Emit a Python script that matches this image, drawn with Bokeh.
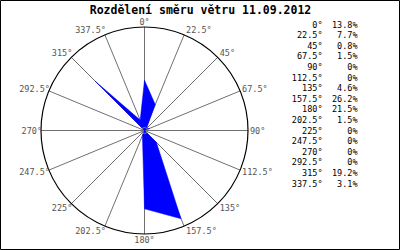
import math
from bokeh.plotting import figure
from bokeh.models import Range1d, ColumnDataSource
from bokeh.core.properties import value
from bokeh.embed import file_html
from bokeh.resources import INLINE

title = "Rozdělení směru větru 11.09.2012"
directions = [0, 22.5, 45, 67.5, 90, 112.5, 135, 157.5, 180, 202.5, 225, 247.5, 270, 292.5, 315, 337.5]
dir_labels = ["0°", "22.5°", "45°", "67.5°", "90°", "112.5°", "135°", "157.5°",
              "180°", "202.5°", "225°", "247.5°", "270°", "292.5°", "315°", "337.5°"]
percent = [13.8, 7.7, 0.8, 1.5, 0, 0, 4.6, 26.2, 21.5, 1.5, 0, 0, 0, 0, 19.2, 3.1]
pct_labels = ["13.8%", "7.7%", "0.8%", "1.5%", "0%", "0%", "4.6%", "26.2%",
              "21.5%", "1.5%", "0%", "0%", "0%", "0%", "19.2%", "3.1%"]
RMAX = 28.4  # outer ring, in percent

W, H = 400, 250
CX, CY = 144, 130          # centre in pixels
S = 103.5 / RMAX           # pixels per percent

p = figure(width=W, height=H, output_backend="svg", toolbar_location=None,
           x_range=Range1d(-CX / S, (W - CX) / S),
           y_range=Range1d(-(H - CY) / S, CY / S),
           min_border=0, background_fill_color="white", border_fill_color="white")
p.axis.visible = False
p.grid.visible = False
p.outline_line_color = "black"
p.outline_line_width = 1

FONT = value("DejaVu Sans Mono")
rad = [math.radians(d) for d in directions]

# spokes
p.segment(x0=[0] * 16, y0=[0] * 16,
          x1=[RMAX * math.sin(a) for a in rad], y1=[RMAX * math.cos(a) for a in rad],
          line_color="#707070", line_width=1)

# outer ring
p.circle(x=[0], y=[0], radius=RMAX, fill_color=None, line_color="black", line_width=1.2)

# rose polygon
px = [v * math.sin(a) for v, a in zip(percent, rad)]
py = [v * math.cos(a) for v, a in zip(percent, rad)]
p.patch(px, py, fill_color="#0000ff", line_color="#0000ff", line_width=0.5)

# centre mark
p.scatter(x=[0], y=[0], size=6, marker="circle", fill_color=None, line_color="#808080", line_width=1)

# direction labels around ring
lx, ly, la, xo, yo = [], [], [], [], []
for a in rad:
    s, c = math.sin(a), math.cos(a)
    lx.append(RMAX * s)
    ly.append(RMAX * c)
    if abs(s) < 1e-6:
        la.append("center"); xo.append(0)
    elif s > 0:
        la.append("left"); xo.append(2)
    else:
        la.append("right"); xo.append(1)
    yo.append(-5.5 * c)
src = ColumnDataSource(dict(x=lx, y=ly, t=dir_labels, align=la, xo=xo, yo=yo))
p.text(x="x", y="y", text="t", source=src, text_align="align", x_offset="xo", y_offset="yo",
       text_baseline="middle", text_font=FONT, text_font_size="8.5px", text_color="#555555")

# title
p.text(x=[(W / 2 - CX) / S], y=[(CY - 9) / S], text=[title], text_align="center",
       text_baseline="middle", text_font=FONT, text_font_style="bold",
       text_font_size="11.5px", text_color="black")

# table on the right
rows_y = [(CY - (24 + 10.6 * i)) / S for i in range(16)]
p.text(x=[(322 - CX) / S] * 16, y=rows_y, text=dir_labels, text_align="right",
       text_baseline="middle", text_font=FONT, text_font_size="8.5px", text_color="black")
p.text(x=[(357 - CX) / S] * 16, y=rows_y, text=pct_labels, text_align="right",
       text_baseline="middle", text_font=FONT, text_font_size="8.5px", text_color="black")

open("out.html", "w").write(file_html(p, INLINE))
